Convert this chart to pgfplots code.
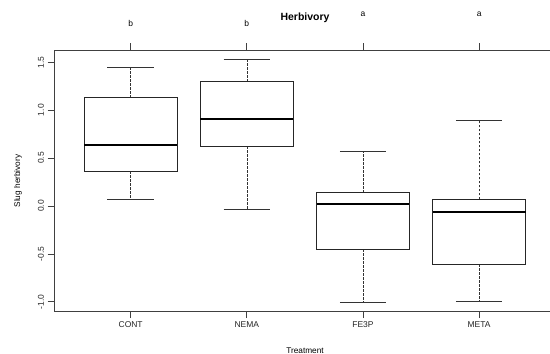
\documentclass[border=0pt]{standalone}
\usepackage{fontspec}
\setmainfont{Liberation Sans}
\usepackage{pgfplots}
\pgfplotsset{compat=1.18}
\usepgfplotslibrary{statistics}
\pgfplotsset{
 boxplot/draw/lower whisker/.code={
   \draw[black!80, line width=0.6bp, dash pattern=on 2.5bp off 1.5bp]
     (boxplot box cs:\pgfplotsboxplotvalue{lower quartile},0.5) -- (boxplot box cs:\pgfplotsboxplotvalue{lower whisker},0.5);
   \draw[black!80, line width=0.75bp]
     (boxplot whisker cs:\pgfplotsboxplotvalue{lower whisker},0) -- (boxplot whisker cs:\pgfplotsboxplotvalue{lower whisker},1);
 },
 boxplot/draw/upper whisker/.code={
   \draw[black!80, line width=0.6bp, dash pattern=on 2.5bp off 1.5bp]
     (boxplot box cs:\pgfplotsboxplotvalue{upper quartile},0.5) -- (boxplot box cs:\pgfplotsboxplotvalue{upper whisker},0.5);
   \draw[black!80, line width=0.75bp]
     (boxplot whisker cs:\pgfplotsboxplotvalue{upper whisker},0) -- (boxplot whisker cs:\pgfplotsboxplotvalue{upper whisker},1);
 },
}
\begin{document}
\begin{tikzpicture}
\useasboundingbox (0,0) rectangle (550bp,354bp);
\begin{axis}[
  at={(54bp,42.3bp)}, anchor=south west,
  width=501.8bp, height=261.7bp, scale only axis,
  xmin=0.34, xmax=4.66, ymin=-1.103, ymax=1.628,
  clip=false,
  axis line style={black!75, line width=0.75bp},
  tick style={black!75, line width=0.75bp},
  tick align=outside, major tick length=6.5bp,
  xtick={1,2,3,4}, xticklabels={CONT,NEMA,FE3P,META},
  xtick pos=both, xticklabel pos=bottom,
  ytick={-1,-0.5,0,0.5,1,1.5},
  yticklabels={-1.0,-0.5,0.0,0.5,1.0,1.5},
  ytick pos=left, yticklabel pos=left,
  ticklabel style={font=\fontsize{8.5}{10}\selectfont, text=black!85},
  yticklabel style={rotate=90, anchor=south},
  boxplot/draw direction=y,
  boxplot/box extend=0.8,
  boxplot/whisker extend=0.4,
  boxplot/every box/.style={draw=black!85, line width=0.75bp},
  boxplot/every median/.style={draw=black, line width=2bp},
]
\addplot[black, boxplot prepared={draw position=1, lower whisker=0.067, lower quartile=0.365, median=0.641, upper quartile=1.131, upper whisker=1.451}] coordinates {};
\addplot[black, boxplot prepared={draw position=2, lower whisker=-0.038, lower quartile=0.626, median=0.905, upper quartile=1.299, upper whisker=1.528}] coordinates {};
\addplot[black, boxplot prepared={draw position=3, lower whisker=-1.002, lower quartile=-0.452, median=0.018, upper quartile=0.140, upper whisker=0.574}] coordinates {};
\addplot[black, boxplot prepared={draw position=4, lower whisker=-1.0, lower quartile=-0.609, median=-0.058, upper quartile=0.070, upper whisker=0.898}] coordinates {};
\node[anchor=base, yshift=23.3bp, font=\fontsize{8.5}{10}\selectfont] at (axis cs:1,1.628) {b};
\node[anchor=base, yshift=23.3bp, font=\fontsize{8.5}{10}\selectfont] at (axis cs:2,1.628) {b};
\node[anchor=base, yshift=33.3bp, font=\fontsize{8.5}{10}\selectfont] at (axis cs:3,1.628) {a};
\node[anchor=base, yshift=33.3bp, font=\fontsize{8.5}{10}\selectfont] at (axis cs:4,1.628) {a};
\end{axis}
\node[anchor=base, font=\bfseries\fontsize{10.5}{12}\selectfont] at (305bp,333.3bp) {Herbivory};
\node[anchor=base, font=\fontsize{8.3}{10}\selectfont] at (305bp,1bp) {Treatment};
\node[anchor=base, rotate=90, font=\fontsize{8.3}{10}\selectfont] at (20bp,173bp) {Slug herbivory};
\end{tikzpicture}
\end{document}
